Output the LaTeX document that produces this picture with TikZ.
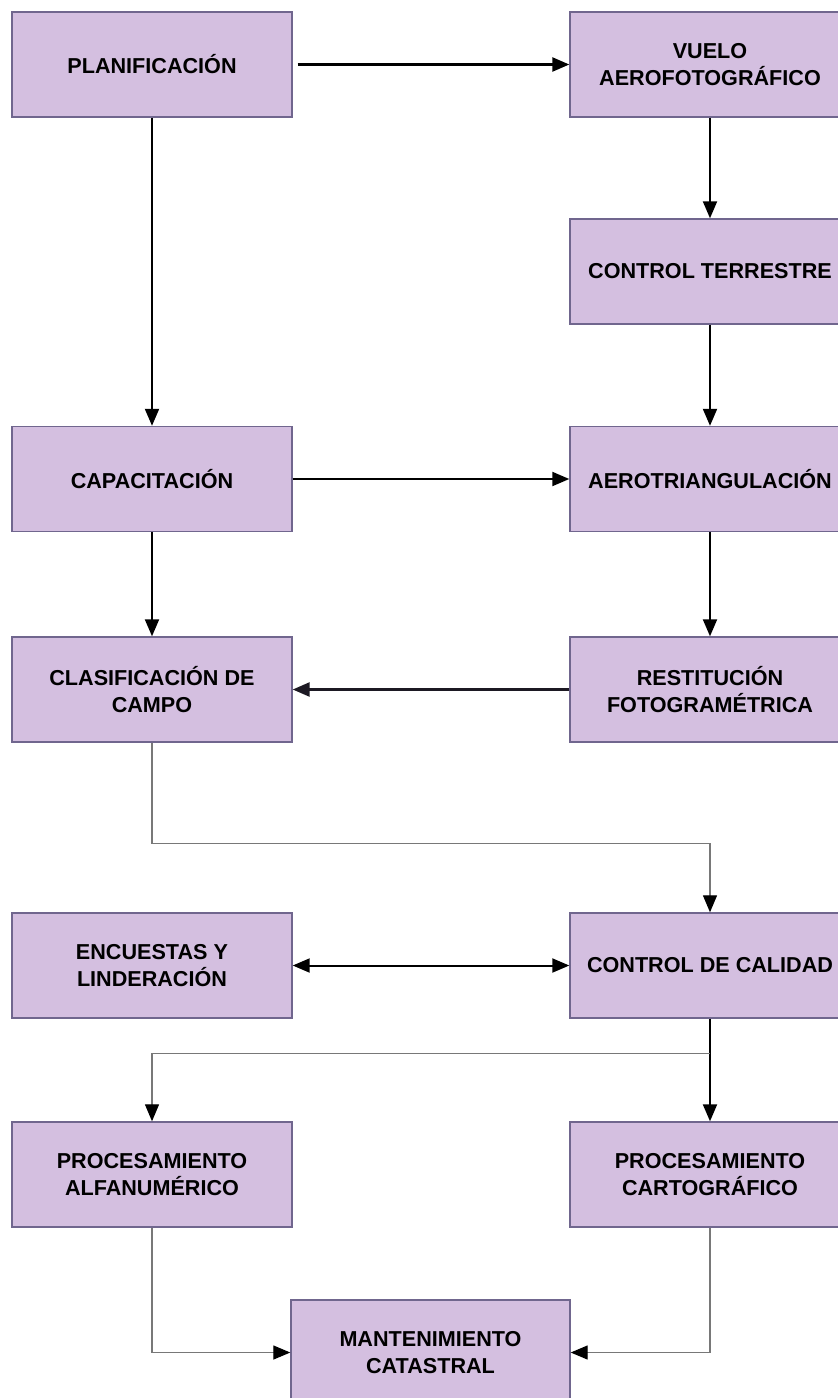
\documentclass[tikz,border=0pt]{standalone}
\usepackage{fontspec}
\setmainfont{Liberation Sans}
\usetikzlibrary{arrows.meta}
\definecolor{boxfill}{RGB}{212,191,224}
\definecolor{boxline}{RGB}{112,102,142}
\definecolor{linkgray}{RGB}{120,120,120}
\begin{document}
\begin{tikzpicture}[x=1pt,y=-1pt,
  tip/.style={-{Triangle[length=17pt,width=14pt]}},
  stage/.style={draw=boxline,line width=1.4pt,fill=boxfill,
    minimum width=280pt,minimum height=105pt,inner sep=0pt,
    align=center,font=\fontsize{21.6}{27}\selectfont\bfseries},
  flow/.style={line width=2pt,draw=black,tip},
  both/.style={line width=2pt,draw=black,{Triangle[length=17pt,width=14pt]}-{Triangle[length=17pt,width=14pt]}},
  route/.style={line width=1.3pt,draw=linkgray,-{Triangle[length=17pt,width=14pt,color=black]}}]
\useasboundingbox (0,0) rectangle (838,1398);
\clip (0,0) rectangle (838,1398);
\fill[white] (0,0) rectangle (838,1398);

% boxes, left column / right column
\node[stage] (plan)   at (152,64.5)   {PLANIFICACIÓN};
\node[stage] (vuelo)  at (710,64.5)   {VUELO\\AEROFOTOGRÁFICO};
\node[stage] (ctrl)   at (710,271.5)  {CONTROL TERRESTRE};
\node[stage] (cap)    at (152,479)    {CAPACITACIÓN};
\node[stage] (aero)   at (710,479)    {AEROTRIANGULACIÓN};
\node[stage] (clas)   at (152,689.5)  {CLASIFICACIÓN DE\\CAMPO};
\node[stage] (rest)   at (710,689.5)  {RESTITUCIÓN\\FOTOGRAMÉTRICA};
\node[stage] (enc)    at (152,965.5)  {ENCUESTAS Y\\LINDERACIÓN};
\node[stage] (cc)     at (710,965.5)  {CONTROL DE CALIDAD};
\node[stage] (alfa)   at (152,1174.5) {PROCESAMIENTO\\ALFANUMÉRICO};
\node[stage] (carto)  at (710,1174.5) {PROCESAMIENTO\\CARTOGRÁFICO};
\node[stage,minimum width=279pt] (mant) at (430.5,1352.5) {MANTENIMIENTO\\CATASTRAL};

% straight connectors
\draw[flow,line width=2.4pt] ([xshift=5pt]plan.east) -- (vuelo.west);
\draw[flow] (plan.south) -- (cap.north);
\draw[flow] (vuelo.south) -- (ctrl.north);
\draw[flow] (ctrl.south) -- (aero.north);
\draw[flow] (cap.east) -- (aero.west);
\draw[flow] (cap.south) -- (clas.north);
\draw[flow] (aero.south) -- (rest.north);
\draw[flow,draw=black!75!boxline,line width=2.6pt] (rest.west) -- (clas.east);
\draw[both] (enc.east) -- (cc.west);
\draw[flow] (cc.south) -- (carto.north);

% routed connectors
\draw[route] (clas.south) -- ++(0,101) -| (cc.north);
\draw[route] (cc.south) ++(0,35) -| (alfa.north);
\draw[route] (alfa.south) |- (mant.west);
\draw[route] (carto.south) |- (mant.east);
\end{tikzpicture}
\end{document}
